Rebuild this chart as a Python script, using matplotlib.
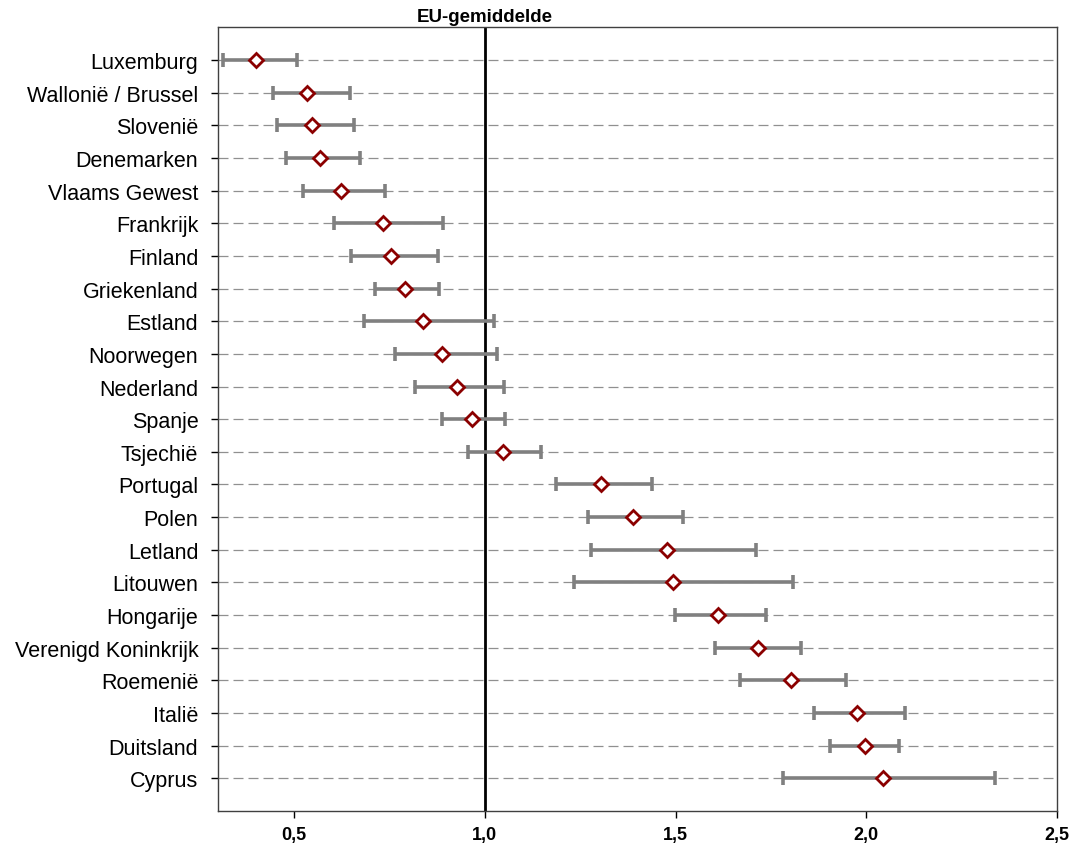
import matplotlib
matplotlib.use("Agg")
import matplotlib.pyplot as plt
import numpy as np

plt.rcParams['font.family'] = ['Liberation Sans', 'DejaVu Sans']

countries = [
    "Luxemburg", "Wallonië / Brussel", "Slovenië", "Denemarken", "Vlaams Gewest",
    "Frankrijk", "Finland", "Griekenland", "Estland", "Noorwegen", "Nederland",
    "Spanje", "Tsjechië", "Portugal", "Polen", "Letland", "Litouwen", "Hongarije",
    "Verenigd Koninkrijk", "Roemenië", "Italië", "Duitsland", "Cyprus",
]
mean = [0.40, 0.534, 0.547, 0.568, 0.623, 0.733, 0.754, 0.791, 0.838, 0.888, 0.927,
        0.967, 1.048, 1.305, 1.389, 1.478, 1.494, 1.612, 1.715, 1.804, 1.977, 1.998, 2.043]
low = [0.313, 0.444, 0.455, 0.478, 0.523, 0.604, 0.649, 0.712, 0.683, 0.765, 0.817,
       0.888, 0.956, 1.187, 1.271, 1.279, 1.234, 1.499, 1.604, 1.670, 1.864, 1.906, 1.783]
high = [0.507, 0.646, 0.657, 0.673, 0.738, 0.891, 0.877, 0.880, 1.024, 1.032, 1.051,
        1.053, 1.148, 1.439, 1.520, 1.712, 1.809, 1.736, 1.828, 1.946, 2.101, 2.087, 2.339]
eu_avg = 1.0
xticks = [0.5, 1.0, 1.5, 2.0, 2.5]

mean = np.array(mean)
low = np.array(low)
high = np.array(high)
y = np.arange(len(countries))

fig = plt.figure(figsize=(10.73, 8.54), dpi=100)
ax = fig.add_axes([0.203, 0.049, 0.782, 0.918])

for yi in y:
    ax.axhline(yi, color="#909090", lw=0.9, ls=(0, (8, 4)), zorder=1)

ax.axvline(eu_avg, color="black", lw=2, zorder=2)

ax.errorbar(mean, y, xerr=[mean - low, high - mean], fmt="none",
            ecolor="#808080", elinewidth=2.6, capsize=5, capthick=2.6, zorder=3)
ax.plot(mean, y, ls="none", marker="D", markersize=7, markerfacecolor="white",
        markeredgecolor="#8B0000", markeredgewidth=2, zorder=4)

ax.set_xlim(0.3, 2.5)
ax.set_ylim(len(countries), -1)
ax.set_yticks(y)
ax.set_yticklabels(countries, fontsize=15.5)
ax.set_xticks(xticks)
ax.set_xticklabels([f"{t:.1f}".replace(".", ",") for t in xticks], fontsize=13, fontweight="bold")
ax.tick_params(axis="x", length=5, width=1, pad=6)
ax.tick_params(axis="y", length=5, width=1, pad=9)
for s in ax.spines.values():
    s.set_color("#404040")
    s.set_linewidth(1)

ax.text(eu_avg, 1.003, "EU-gemiddelde", transform=ax.get_xaxis_transform(),
        ha="center", va="bottom", fontsize=13.5, fontweight="bold")

fig.savefig("out.png", dpi=100)
